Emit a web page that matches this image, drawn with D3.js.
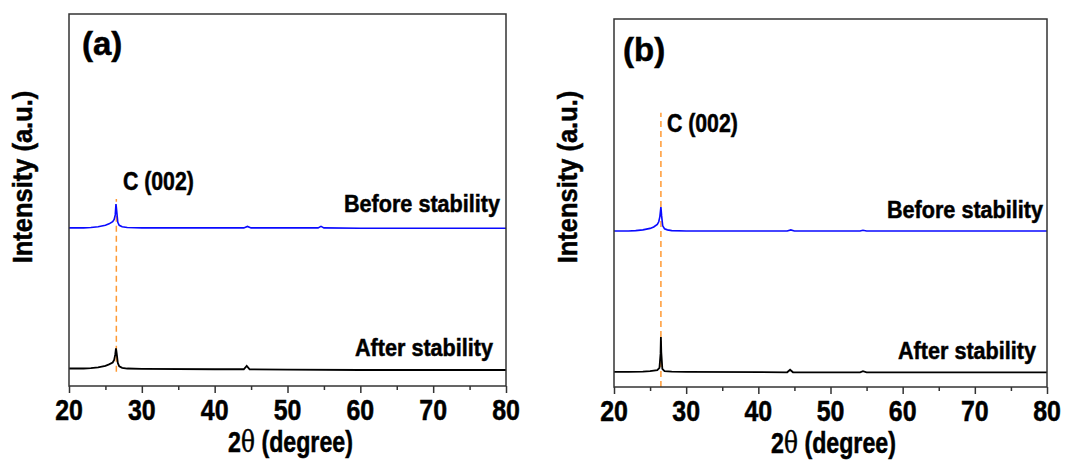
<!DOCTYPE html>
<html><head>
<meta charset="utf-8">
<title>XRD before / after stability</title>
<script src="https://d3js.org/d3.v7.min.js"></script>
<style>
  body { margin: 0; background: #ffffff; }
  svg text { font-family: 'Liberation Sans', Arial, sans-serif; font-weight: bold; fill: #000;
             stroke: #000; stroke-width: 0.5px; }
</style>
</head>
<body>
<svg id="chart" width="1088" height="461"></svg>
<script>
// ---- data (intensity in arbitrary units 0-100) ----
const xTicks = [20, 30, 40, 50, 60, 70, 80];
const xMinorTicks = [25, 35, 45, 55, 65, 75];
const peakPos = 26.5;

const aBeforeX = [20, 22, 23, 24, 25, 25.5, 26.0, 26.2, 26.35, 26.45, 26.55, 26.7, 26.9, 27.3, 28, 30, 40, 44.0, 44.5, 45, 54.2, 54.6, 55, 60, 70, 80];
const aBeforeY = [42.5, 42.5, 42.6, 42.8, 43.2, 43.6, 44.2, 44.8, 46.0, 48.9, 47.0, 44.0, 43.2, 42.8, 42.6, 42.5, 42.5, 42.5, 42.9, 42.5, 42.5, 42.9, 42.5, 42.4, 42.4, 42.4];

const aAfterX = [20, 22, 23, 24, 25, 25.5, 26.0, 26.2, 26.35, 26.45, 26.55, 26.7, 26.9, 27.3, 28, 30, 40, 44.0, 44.4, 44.8, 50, 60, 70, 80];
const aAfterY = [4.7, 4.7, 4.8, 5.0, 5.4, 5.8, 6.3, 7.0, 8.5, 10.1, 8.8, 6.2, 5.3, 4.9, 4.7, 4.6, 4.5, 4.5, 5.4, 4.5, 4.4, 4.3, 4.3, 4.3];

const bBeforeX = [20, 22, 23, 24, 25, 25.5, 26.0, 26.2, 26.35, 26.5, 26.6, 26.75, 27.0, 27.4, 28, 30, 44.0, 44.5, 45, 54.1, 54.5, 55, 60, 70, 80];
const bBeforeY = [42.4, 42.4, 42.5, 42.7, 43.1, 43.5, 44.2, 44.9, 46.2, 48.9, 46.5, 43.8, 43.0, 42.7, 42.5, 42.4, 42.4, 42.7, 42.4, 42.4, 42.6, 42.4, 42.4, 42.4, 42.4];

const bAfterX = [20, 22, 24, 25, 26.0, 26.3, 26.45, 26.5, 26.55, 26.7, 27.0, 28, 30, 44.0, 44.4, 44.8, 54.1, 54.5, 55, 60, 70, 80];
const bAfterY = [4.1, 4.1, 4.2, 4.3, 4.6, 5.2, 9.0, 13.6, 9.5, 4.9, 4.3, 4.2, 4.1, 4.0, 4.7, 4.0, 4.0, 4.3, 4.0, 4.0, 4.0, 4.0];

const panels = [
  { tag: "(a)", box: {x0: 69, x1: 506, y0: 14, y1: 386},
    before: [aBeforeX, aBeforeY], after: [aAfterX, aAfterY], refLine: [3.8, 50.3],
    tagPos: [82, 55], peakLbl: [123, 190], beforeLbl: [500, 212], afterLbl: [493, 356] },
  { tag: "(b)", box: {x0: 614, x1: 1047, y0: 19, y1: 387},
    before: [bBeforeX, bBeforeY], after: [bAfterX, bAfterY], refLine: [0, 74.5],
    tagPos: [623, 61], peakLbl: [667, 132], beforeLbl: [1043, 218], afterLbl: [1036, 359] }
];

const svg = d3.select("#chart");

function addText(g, x, y, str, size, anchor, sx) {
  return g.append("text")
    .attr("transform", `translate(${x},${y}) scale(${sx},1)`)
    .attr("text-anchor", anchor)
    .style("font-size", size + "px")
    .text(str);
}

panels.forEach(p => {
  const b = p.box;
  const g = svg.append("g");
  const x = d3.scaleLinear().domain([20, 80]).range([b.x0, b.x1]);
  const y = d3.scaleLinear().domain([0, 100]).range([b.y1, b.y0]);

  const line = d3.line().x(d => x(d[0])).y(d => y(d[1]));

  // orange reference line at the C(002) peak
  g.append("line")
    .attr("x1", x(peakPos)).attr("x2", x(peakPos))
    .attr("y1", y(p.refLine[0])).attr("y2", y(p.refLine[1]))
    .attr("stroke", "#ff9933").attr("stroke-width", 1.5)
    .attr("stroke-dasharray", "6,4");

  g.append("path")
    .datum(d3.zip(p.before[0], p.before[1]))
    .attr("d", line).attr("fill", "none")
    .attr("stroke", "#0a0aff").attr("stroke-width", 1.6);

  g.append("path")
    .datum(d3.zip(p.after[0], p.after[1]))
    .attr("d", line).attr("fill", "none")
    .attr("stroke", "#000").attr("stroke-width", 1.8);

  // frame
  g.append("rect")
    .attr("x", b.x0).attr("y", b.y0)
    .attr("width", b.x1 - b.x0).attr("height", b.y1 - b.y0)
    .attr("fill", "none").attr("stroke", "#333").attr("stroke-width", 1.5);

  // bottom axis: major + minor ticks pointing out
  const axis = g.append("g").attr("transform", `translate(0,${b.y1})`);
  axis.call(d3.axisBottom(x).tickValues(xTicks).tickSize(7).tickFormat(""));
  axis.append("g").call(d3.axisBottom(x).tickValues(xMinorTicks).tickSize(4).tickFormat(""));
  axis.selectAll(".domain").remove();
  axis.selectAll("line").attr("stroke", "#333").attr("stroke-width", 1.5);

  xTicks.forEach(t => addText(g, x(t), b.y1 + 34, t, 29, "middle", 0.86));

  // axis titles
  const tx = g.append("text")
    .attr("transform", `translate(${(b.x0 + b.x1) / 2 + 3},${b.y1 + 66}) scale(0.8,1)`)
    .attr("text-anchor", "middle")
    .style("font-size", "29px");
  tx.append("tspan").text("2");
  tx.append("tspan").style("font-family", "'DejaVu Serif', serif").style("font-weight", "normal").text("θ");
  tx.append("tspan").text(" (degree)");

  g.append("text")
    .attr("transform", `translate(${b.x0 - 37},${177}) rotate(-90) scale(0.91,1)`)
    .attr("text-anchor", "middle")
    .style("font-size", "28px")
    .text("Intensity (a.u.)");

  addText(g, p.tagPos[0], p.tagPos[1], p.tag, 33, "start", 1);
  addText(g, p.peakLbl[0], p.peakLbl[1], "C (002)", 25, "start", 0.85);
  addText(g, p.beforeLbl[0], p.beforeLbl[1], "Before stability", 24, "end", 0.9);
  addText(g, p.afterLbl[0], p.afterLbl[1], "After stability", 24, "end", 0.9);
});
</script>
</body>
</html>
